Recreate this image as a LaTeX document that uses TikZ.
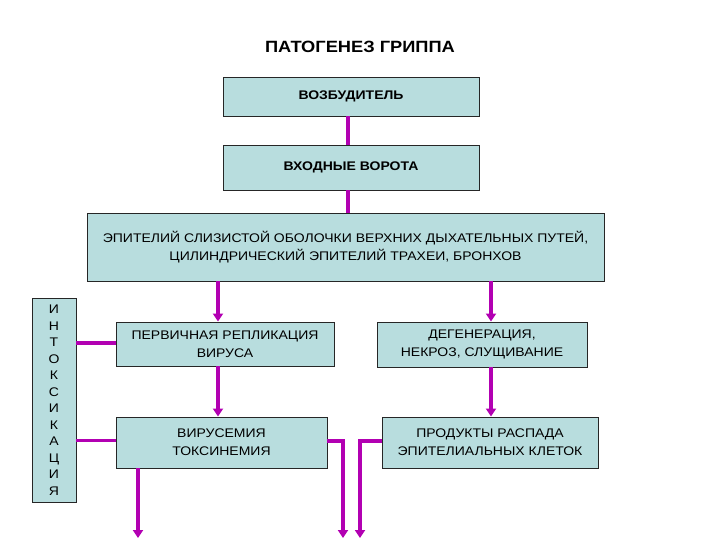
\documentclass[tikz,border=0pt]{standalone}
\usepackage{fontspec}
\setmainfont{Liberation Sans}[FakeStretch=1.12]
\usetikzlibrary{arrows.meta}

\definecolor{boxfill}{RGB}{184,221,222}
\definecolor{linkcol}{RGB}{178,0,178}

\begin{document}
\begin{tikzpicture}[x=1pt,y=-1pt,
  box/.style={draw=black!85,line width=0.9pt,fill=boxfill,align=center,inner sep=0pt,
    font=\fontsize{12.5}{18}\selectfont},
  link/.style={linkcol,line width=3.2pt},
  arr/.style={link,-{Triangle[length=8pt,width=10pt]}}]
  \useasboundingbox (0,0) rectangle (720,540);
  \node[font=\bfseries\fontsize{16.3}{18}\selectfont] (title) at (360,47) {ПАТОГЕНЕЗ ГРИППА};
  % верхняя цепочка
  \node[box,minimum width=256,minimum height=39,font=\bfseries\fontsize{12.5}{15}\selectfont] (vozb) at (351,96.5) {ВОЗБУДИТЕЛЬ};
  \node[box,minimum width=256,minimum height=45,font=\bfseries\fontsize{12.5}{15}\selectfont] (vhod) at (351,167.5) {ВХОДНЫЕ ВОРОТА};
  \node[box,minimum width=517,minimum height=68] (epit) at (345.5,247)
    {ЭПИТЕЛИЙ СЛИЗИСТОЙ ОБОЛОЧКИ ВЕРХНИХ ДЫХАТЕЛЬНЫХ ПУТЕЙ,\\ЦИЛИНДРИЧЕСКИЙ ЭПИТЕЛИЙ ТРАХЕИ, БРОНХОВ};
  % левая и правая ветви
  \node[box,minimum width=218,minimum height=44] (perv) at (225,344) {ПЕРВИЧНАЯ РЕПЛИКАЦИЯ\\ВИРУСА};
  \node[box,minimum width=211,minimum height=51] (virus) at (221.5,442.5) {ВИРУСЕМИЯ\\ТОКСИНЕМИЯ};
  \node[box,minimum width=210,minimum height=45] (degen) at (482,344.5) {ДЕГЕНЕРАЦИЯ,\\НЕКРОЗ, СЛУЩИВАНИЕ};
  \node[box,minimum width=216,minimum height=51] (prod) at (490,442.5) {ПРОДУКТЫ РАСПАДА\\ЭПИТЕЛИАЛЬНЫХ КЛЕТОК};
  \node[box,minimum width=44,minimum height=204,font=\fontsize{12.5}{16.5}\selectfont] (intox) at (54,400)
    {И\\Н\\Т\\О\\К\\С\\И\\К\\А\\Ц\\И\\Я};
  \coordinate (lcol) at (218,0);
  \coordinate (rcol) at (491,0);
  \coordinate (out1) at (138,538);
  \coordinate (out2) at (343,538);
  \coordinate (out3) at (360,538);
  % связи
  \draw[link] ([xshift=-3pt]vozb.south) -- ([xshift=-3pt]vhod.north);
  \draw[link] ([xshift=-3pt]vhod.south) -- ([xshift=-3pt]vhod.south |- epit.north);
  \draw[arr] (epit.south -| lcol) -- (perv.north -| lcol);
  \draw[arr] (perv.south -| lcol) -- (virus.north -| lcol);
  \draw[arr] (epit.south -| rcol) -- (degen.north -| rcol);
  \draw[arr] (degen.south -| rcol) -- (prod.north -| rcol);
  \draw[link] ([yshift=1pt]intox.east |- perv.west) -- ([yshift=1pt]perv.west);
  \draw[link] ([yshift=2pt]intox.east |- virus.west) -- ([yshift=2pt]virus.west);
  \draw[arr] (virus.south -| out1) -- (out1);
  \draw[arr] ([yshift=1.5pt]virus.east) -| (out2);
  \draw[arr] ([yshift=1.5pt]prod.west) -| (out3);
\end{tikzpicture}
\end{document}
